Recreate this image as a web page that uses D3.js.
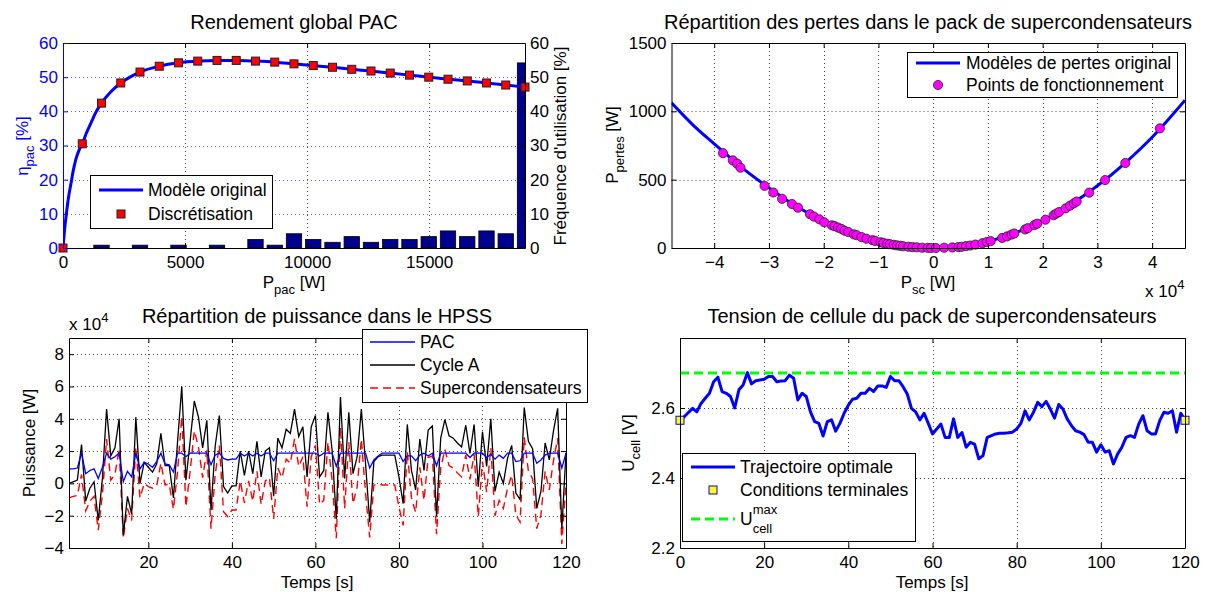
<!DOCTYPE html>
<html><head><meta charset="utf-8">
<script src="https://cdn.jsdelivr.net/npm/d3@7"></script>
<style>
body{margin:0;background:#fff}
svg{display:block}
text{font-family:"Liberation Sans",Arial,Helvetica,sans-serif}
</style></head>
<body><svg id="c" width="1213" height="592"></svg>
<script>
// ---------------- DATA ----------------
// Panel 1 : Rendement global PAC
const modelP   = [0,60,130,230,330,430,530,650,789,950,1170,1370,1577,1970,2366,2760,3154,3943,4732,5520,6309,7097,7886,8675,9463,10252,11041,11829,12618,13406,14195,14984,15772,16561,17350,18138,18927];
const modelEta = [0,5,9.5,15,19,23,26,28.5,30.5,33.5,37,40,42.4,45.8,48.3,50.1,51.5,53.2,54.2,54.7,54.9,54.9,54.7,54.4,53.9,53.4,52.9,52.3,51.8,51.2,50.6,50.0,49.4,48.9,48.3,47.7,47.1];
const discP    = [0,789,1577,2366,3154,3943,4732,5520,6309,7097,7886,8675,9463,10252,11041,11829,12618,13406,14195,14984,15772,16561,17350,18138,18927];
const discEta  = [0,30.5,42.4,48.3,51.5,53.2,54.2,54.7,54.9,54.9,54.7,54.4,53.9,53.4,52.9,52.3,51.8,51.2,50.6,50.0,49.4,48.9,48.3,47.7,47.1];
const freqP    = [1577,3154,4732,6309,7886,8675,9463,10252,11041,11829,12618,13406,14195,14984,15772,16561,17350,18138,18927];
const freqPct  = [0.83,0.83,0.83,0.83,2.5,0.83,4.17,2.5,1.67,3.33,1.67,2.5,2.5,3.33,5.0,3.33,5.0,4.17,54.17];
const p1XTicks = [0,5000,10000,15000];
const p1YTicks = [0,10,20,30,40,50,60];

// Panel 2 : pertes supercondensateurs (x in 1e4 W, y in W)
const lossCurveX = [-4.78,-4.4,-4.0,-3.5,-3.0,-2.5,-2.0,-1.5,-1.0,-0.5,0,0.5,1.0,1.5,2.0,2.5,3.0,3.5,4.0,4.6];
const lossCurveY = [1062,905,762,590,440,305,195,107,47,12,0,12,47,110,200,315,455,620,810,1081];
const opX = [-3.84,-3.66,-3.58,-3.52,-3.08,-2.92,-2.76,-2.58,-2.47,-2.25,-2.18,-2.08,-1.99,-1.85,-1.80,-1.74,-1.68,-1.62,-1.55,-1.45,-1.40,-1.31,-1.22,-1.11,-1.06,-0.96,-0.91,-0.84,-0.79,-0.72,-0.66,-0.60,-0.55,-0.45,-0.38,-0.30,-0.20,-0.10,-0.04,0.05,0.20,0.35,0.46,0.52,0.60,0.68,0.77,0.90,0.98,1.05,1.26,1.35,1.43,1.48,1.68,1.73,1.85,1.90,2.05,2.20,2.25,2.30,2.42,2.50,2.57,2.62,2.85,3.14,3.51,4.14];
const opY = [694,641,617,588,455,406,360,322,295,247,230,210,188,166,160,150,140,127,117,100,94,80,68,57,52,42,37,31,28,23,19,16,13,9,7,5,2,1,0,0,2,4,7,9,14,18,25,35,44,50,74,85,98,106,136,145,168,178,207,240,252,263,290,310,327,340,405,497,622,875];
const p2XTicks = [-4,-3,-2,-1,0,1,2,3,4];
const p2YTicks = [0,500,1000,1500];

// Panel 3 : répartition de puissance (x1e4 W)
const time3 = [1,2,3,4,5,6,7,8,9,10,11,12,13,14,15,16,17,18,19,20,21,22,23,24,25,26,27,28,29,30,31,32,33,34,35,36,37,38,39,40,41,42,43,44,45,46,47,48,49,50,51,52,53,54,55,56,57,58,59,60,61,62,63,64,65,66,67,68,69,70,71,72,73,74,75,76,77,78,79,80,81,82,83,84,85,86,87,88,89,90,91,92,93,94,95,96,97,98,99,100,101,102,103,104,105,106,107,108,109,110,111,112,113,114,115,116,117,118,119,120];
const pacP = [0.9,0.9,0.95,1.87,0.6,0.8,0.9,0.3,1.0,1.87,
 1.5,1.65,1.87,0.1,0.75,0.4,1.87,0.9,1.3,1.2,
 1.0,1.35,1.87,1.2,1.15,0.7,1.87,1.87,1.65,1.87,
 1.87,1.87,1.87,1.87,1.15,1.75,1.87,1.55,1.45,1.5,
 1.5,1.87,1.7,1.87,1.7,1.87,1.7,1.87,1.87,1.4,
 1.87,1.87,1.87,1.87,1.87,1.87,1.87,1.87,1.87,1.87,
 1.7,1.87,1.87,1.87,1.05,1.87,1.87,1.87,1.87,1.87,
 1.87,1.87,0.95,1.45,1.7,1.87,1.87,1.87,1.87,1.87,
 1.35,1.7,1.7,1.4,1.75,1.87,1.7,1.87,1.1,1.87,
 1.87,1.87,1.87,1.87,1.87,1.87,1.6,1.87,1.87,1.87,
 1.6,1.8,1.5,1.75,1.55,1.87,1.87,1.35,1.4,1.87,
 1.87,1.87,1.25,1.45,1.75,1.87,1.87,1.87,0.95,1.87];
const cycleP = [0.0,0.1,0.2,2.4,-1.1,-0.3,0.1,-2.3,0.3,4.6,
 1.7,2.2,4.0,-3.2,-0.8,-1.9,4.1,0.0,1.3,1.0,
 0.7,1.2,3.1,1.1,1.1,-0.9,2.6,6.0,0.2,2.6,
 5.1,4.1,2.2,3.9,-1.65,2.3,4.2,-0.2,-0.6,-0.15,
 -0.15,2.0,0.5,2.0,0.6,2.6,0.4,2.0,2.2,-0.8,
 2.8,2.2,3.35,3.1,4.6,2.9,3.5,0.4,3.5,4.2,
 0.4,0.8,4.4,2.05,-2.2,5.35,0.3,4.4,0.6,1.65,
 4.6,1.25,-2.4,1.35,1.65,1.75,1.75,1.75,1.75,0.4,
 -1.25,3.65,0.8,-0.4,2.75,0.8,3.3,3.55,-2.05,2.8,
 3.95,2.95,2.8,2.5,2.25,3.6,1.85,3.65,-0.2,3.2,
 1.05,4.0,-0.5,0.7,0.0,1.55,2.35,-0.6,-1.0,4.7,
 2.6,2.15,-1.55,-0.5,2.5,1.45,3.25,4.65,-2.8,1.9];
const scP = [-0.9,-0.8,-0.75,0.55,-1.7,-1.1,-0.8,-2.9,-0.7,2.75,
 0.2,0.55,2.15,-3.4,-1.55,-2.3,2.25,-0.9,0.0,-0.2,
 -0.3,-0.15,1.25,-0.1,-0.05,-1.6,0.75,4.15,-1.45,0.75,
 3.25,2.25,0.35,2.05,-2.8,0.55,2.35,-1.75,-2.05,-1.65,
 -1.65,0.15,-1.2,0.15,-1.1,0.75,-1.3,0.15,0.35,-2.2,
 0.95,0.35,1.5,1.25,2.75,1.05,1.65,-1.45,1.65,2.35,
 -1.3,-1.05,2.55,0.2,-3.4,3.5,-1.55,2.55,-1.25,-0.2,
 2.75,-0.6,-3.35,-0.1,-0.05,-0.1,-0.1,-0.1,-0.1,-1.45,
 -2.6,1.95,-0.9,-1.8,1.0,-1.05,1.6,1.7,-3.15,0.95,
 2.1,1.1,0.95,0.65,0.4,1.75,0.25,1.8,-2.05,1.35,
 -0.55,2.2,-2.0,-1.05,-1.55,-0.3,0.5,-1.95,-2.4,2.85,
 0.75,0.3,-2.8,-1.95,0.75,-0.4,1.4,2.8,-3.75,0.05];
const p3XTicks = [20,40,60,80,100,120];
const p3YTicks = [-4,-2,0,2,4,6,8];

// Panel 4 : tension de cellule
const time4 = [0,1,2,3,4,5,6,7,8,9,10,11,12,13,14,15,16,17,18,19,20,21,22,23,24,25,26,27,28,29,30,31,32,33,34,35,36,37,38,39,40,41,42,43,44,45,46,47,48,49,50,51,52,53,54,55,56,57,58,59,60,61,62,63,64,65,66,67,68,69,70,71,72,73,74,75,76,77,78,79,80,81,82,83,84,85,86,87,88,89,90,91,92,93,94,95,96,97,98,99,100,101,102,103,104,105,106,107,108,109,110,111,112,113,114,115,116,117,118,119,120];
const uCell = [2.565,2.575,2.587,2.599,2.589,2.613,2.628,2.642,2.675,2.688,
 2.647,2.642,2.633,2.600,2.652,2.666,2.701,2.669,2.678,2.680,
 2.682,2.690,2.690,2.675,2.677,2.678,2.694,2.685,2.623,2.642,
 2.633,2.589,2.561,2.556,2.520,2.561,2.566,2.534,2.556,2.585,
 2.608,2.625,2.628,2.642,2.642,2.656,2.647,2.663,2.663,2.659,
 2.690,2.678,2.678,2.661,2.640,2.599,2.589,2.566,2.585,2.556,
 2.526,2.540,2.554,2.516,2.516,2.569,2.516,2.530,2.488,2.502,
 2.497,2.455,2.464,2.516,2.521,2.526,2.528,2.528,2.529,2.531,
 2.540,2.556,2.592,2.566,2.588,2.616,2.604,2.619,2.597,2.571,
 2.610,2.597,2.569,2.550,2.535,2.531,2.524,2.502,2.502,2.474,
 2.495,2.474,2.478,2.440,2.469,2.488,2.516,2.521,2.516,2.554,
 2.578,2.535,2.526,2.526,2.564,2.588,2.585,2.592,2.531,2.585,2.565];
const termT = [0,120];
const termU = [2.565,2.565];
const uMax = 2.7;
const p4XTicks = [0,20,40,60,80,100,120];
const p4YTicks = [2.2,2.4,2.6];

// ---------------- DRAWING ----------------
const TICK=17, LAB=17, TITLE=20, LEG=17.5, SUB=13;
const svg = d3.select("#c");
svg.append("rect").attr("width",1213).attr("height",592).attr("fill","#fff");
const defs = svg.append("defs");

function clip(id,x0,y0,x1,y1){
  defs.append("clipPath").attr("id",id).append("rect").attr("x",x0).attr("y",y0).attr("width",x1-x0).attr("height",y1-y0);
  return `url(#${id})`;
}
function grid(g,x,y,xt,yt,cx,cy){
  const [xa,xb]=x.range(), [yb,ya]=y.range();
  xt.filter(v=>x(v)>xa+1&&x(v)<xb-1).forEach(v=>{
    g.append("line").attr("x1",Math.round(x(v))+0.5).attr("x2",Math.round(x(v))+0.5).attr("y1",ya).attr("y2",yb)
     .attr("stroke",cx).attr("stroke-width",1).attr("stroke-dasharray","1,3");
  });
  yt.filter(v=>y(v)<yb-1&&y(v)>ya+1).forEach(v=>{
    g.append("line").attr("y1",Math.round(y(v))+0.5).attr("y2",Math.round(y(v))+0.5).attr("x1",xa).attr("x2",xb)
     .attr("stroke",cy).attr("stroke-width",1).attr("stroke-dasharray","1,3");
  });
}
function styleAxis(a,color){
  a.attr("font-size",TICK).attr("font-family",null);
  a.selectAll("text").attr("fill",color);
  a.selectAll("line,path").attr("stroke",color);
}
function axes(g,x,y,xt,yt,xf,yf,opt={}){
  const [xa,xb]=x.range(), [yb,ya]=y.range();
  const lc=opt.leftColor||"#000";
  styleAxis(g.append("g").attr("transform",`translate(0,${ya})`).call(d3.axisTop(x).tickValues(xt).tickFormat("").tickSizeInner(-5).tickSizeOuter(0)),"#000");
  styleAxis(g.append("g").attr("transform",`translate(0,${yb})`).call(d3.axisBottom(x).tickValues(xt).tickFormat(xf).tickSizeInner(-5).tickSizeOuter(0).tickPadding(8)),"#000");
  if(!opt.noRight) styleAxis(g.append("g").attr("transform",`translate(${xb},0)`).call(d3.axisRight(y).tickValues(yt).tickFormat("").tickSizeInner(-5).tickSizeOuter(0)),"#000");
  styleAxis(g.append("g").attr("transform",`translate(${xa},0)`).call(d3.axisLeft(y).tickValues(yt).tickFormat(yf).tickSizeInner(-5).tickSizeOuter(0).tickPadding(5)),lc);
}
function rich(parent,parts,o={}){
  const t=parent.append("text").attr("font-size",o.size||LAB).attr("text-anchor",o.anchor||"middle").attr("fill",o.color||"#000");
  if(o.x!==undefined) t.attr("x",o.x).attr("y",o.y);
  if(o.transform) t.attr("transform",o.transform);
  let cur=0;
  parts.forEach(([s,k])=>{
    const target=k==="sub"?5.5:k==="sup"?-8:0;
    const ts=t.append("tspan").text(s).attr("dy",target-cur);
    if(k!=="n") ts.attr("font-size",SUB);
    cur=target;
  });
  return t;
}
function legendBox(g,x0,y0,x1,y1){
  g.append("rect").attr("x",x0+0.5).attr("y",y0+0.5).attr("width",x1-x0).attr("height",y1-y0).attr("fill","#fff").attr("stroke","#000").attr("stroke-width",1);
}
function ltext(g,x,y,s){ return g.append("text").attr("x",x).attr("y",y+6.2).attr("font-size",LEG).text(s); }

// ===== Panel 1 =====
{
  const g=svg.append("g");
  const x=d3.scaleLinear().domain([0,18927]).range([63,525]);
  const y=d3.scaleLinear().domain([0,60]).range([248,43]);
  const y2=d3.scaleLinear().domain([0,60]).range([248,43]);
  const cp=clip("c1",63,43,525,248);
  grid(g,x,y,p1XTicks,p1YTicks,"#444","#5a5aff");
  const BAR_HALF=315;
  g.append("g").attr("clip-path",cp).selectAll("rect").data(freqP.map((p,i)=>({p,v:freqPct[i]}))).join("rect")
    .attr("x",d=>x(d.p-BAR_HALF)).attr("width",d=>x(d.p+BAR_HALF)-x(d.p-BAR_HALF))
    .attr("y",d=>y2(d.v)).attr("height",d=>y2(0)-y2(d.v))
    .attr("fill","#00008F").attr("stroke","#000").attr("stroke-width",0.8);
  const line=d3.line().x((d,i)=>x(modelP[i])).y((d,i)=>y(modelEta[i])).curve(d3.curveMonotoneX);
  g.append("path").attr("clip-path",cp).attr("d",line(modelP)).attr("fill","none").attr("stroke","#0000FF").attr("stroke-width",3);
  g.append("g").selectAll("rect").data(discP.map((p,i)=>({p,v:discEta[i]}))).join("rect")
    .attr("x",d=>x(d.p)-4).attr("y",d=>y(d.v)-4).attr("width",8).attr("height",8)
    .attr("fill","#FF0000").attr("stroke","#222").attr("stroke-width",1);
  axes(g,x,y,p1XTicks,p1YTicks,d3.format("d"),d3.format("d"),{leftColor:"#0000FF",noRight:true});
  styleAxis(g.append("g").attr("transform","translate(525,0)").call(d3.axisRight(y2).tickValues(p1YTicks).tickFormat(d3.format("d")).tickSizeInner(-5).tickSizeOuter(0).tickPadding(5)),"#000");
  g.append("text").attr("x",294).attr("y",29).attr("text-anchor","middle").attr("font-size",TITLE).text("Rendement global PAC");
  rich(g,[["P","n"],["pac","sub"],[" [W]","n"]],{x:294,y:288});
  rich(g,[["η","n"],["pac","sub"],[" [%]","n"]],{transform:"translate(28,146) rotate(-90)",color:"#0000FF"});
  g.append("text").attr("transform","translate(566,146) rotate(-90)").attr("text-anchor","middle").attr("font-size",LAB).text("Fréquence d'utilisation [%]");
  legendBox(g,90,175,272,228);
  g.append("line").attr("x1",99).attr("x2",143).attr("y1",190).attr("y2",190).attr("stroke","#0000FF").attr("stroke-width",3);
  ltext(g,148,190,"Modèle original");
  g.append("rect").attr("x",117).attr("y",210).attr("width",8).attr("height",8).attr("fill","#FF0000").attr("stroke","#222");
  ltext(g,148,214,"Discrétisation");
}

// ===== Panel 2 =====
{
  const g=svg.append("g");
  const x=d3.scaleLinear().domain([-4.78,4.6]).range([671.5,1185]);
  const y=d3.scaleLinear().domain([0,1500]).range([248,43]);
  const cp=clip("c2",671.5,43,1185,248);
  grid(g,x,y,p2XTicks,p2YTicks,"#444","#444");
  const line=d3.line().x((d,i)=>x(lossCurveX[i])).y((d,i)=>y(lossCurveY[i])).curve(d3.curveMonotoneX);
  g.append("path").attr("clip-path",cp).attr("d",line(lossCurveX)).attr("fill","none").attr("stroke","#0000FF").attr("stroke-width",3);
  g.append("g").selectAll("circle").data(opX.map((v,i)=>({v,w:opY[i]}))).join("circle")
    .attr("cx",d=>x(d.v)).attr("cy",d=>y(d.w)).attr("r",4.6).attr("fill","#FF00FF").attr("stroke","#222").attr("stroke-width",0.8);
  axes(g,x,y,p2XTicks,p2YTicks,d3.format("d"),d3.format("d"));
  g.append("text").attr("x",928).attr("y",29).attr("text-anchor","middle").attr("font-size",TITLE).text("Répartition des pertes dans le pack de supercondensateurs");
  rich(g,[["P","n"],["sc","sub"],[" [W]","n"]],{x:928,y:288});
  rich(g,[["P","n"],["pertes","sub"],[" [W]","n"]],{transform:"translate(618,145) rotate(-90)"});
  rich(g,[["x 10","n"],["4","sup"]],{x:1145,y:297,anchor:"start"});
  legendBox(g,907,52,1177,97);
  g.append("line").attr("x1",916).attr("x2",960).attr("y1",63).attr("y2",63).attr("stroke","#0000FF").attr("stroke-width",3);
  ltext(g,966,63,"Modèles de pertes original");
  g.append("circle").attr("cx",938).attr("cy",85).attr("r",4.6).attr("fill","#FF00FF").attr("stroke","#222").attr("stroke-width",0.8);
  ltext(g,966,85,"Points de fonctionnement");
}

// ===== Panel 3 =====
{
  const g=svg.append("g");
  const x=d3.scaleLinear().domain([1,120]).range([69,566]);
  const y=d3.scaleLinear().domain([-4,9]).range([548,338]);
  const cp=clip("c3",69,338,566,548);
  grid(g,x,y,p3XTicks,p3YTicks,"#444","#444");
  const mk=arr=>d3.line().x((d,i)=>x(time3[i])).y((d,i)=>y(arr[i]))(arr);
  g.append("path").attr("clip-path",cp).attr("d",mk(scP)).attr("fill","none").attr("stroke","#FF0000").attr("stroke-width",1.4).attr("stroke-dasharray","8,5");
  g.append("path").attr("clip-path",cp).attr("d",mk(cycleP)).attr("fill","none").attr("stroke","#000").attr("stroke-width",1.3);
  g.append("path").attr("clip-path",cp).attr("d",mk(pacP)).attr("fill","none").attr("stroke","#0000FF").attr("stroke-width",1.3);
  axes(g,x,y,p3XTicks,p3YTicks,d3.format("d"),d3.format("d"));
  g.append("text").attr("x",317).attr("y",323).attr("text-anchor","middle").attr("font-size",TITLE).text("Répartition de puissance dans le HPSS");
  g.append("text").attr("x",317).attr("y",588).attr("text-anchor","middle").attr("font-size",LAB).text("Temps [s]");
  g.append("text").attr("transform","translate(35,443) rotate(-90)").attr("text-anchor","middle").attr("font-size",LAB).text("Puissance [W]");
  rich(g,[["x 10","n"],["4","sup"]],{x:69,y:330,anchor:"start"});
  legendBox(g,362,329,587,402);
  g.append("line").attr("x1",370).attr("x2",415).attr("y1",342).attr("y2",342).attr("stroke","#0000FF").attr("stroke-width",1.3);
  ltext(g,420,342,"PAC");
  g.append("line").attr("x1",370).attr("x2",415).attr("y1",365).attr("y2",365).attr("stroke","#000").attr("stroke-width",1.3);
  ltext(g,420,365,"Cycle A");
  g.append("line").attr("x1",370).attr("x2",415).attr("y1",388).attr("y2",388).attr("stroke","#FF0000").attr("stroke-width",1.4).attr("stroke-dasharray","8,5");
  ltext(g,420,388,"Supercondensateurs");
}

// ===== Panel 4 =====
{
  const g=svg.append("g");
  const x=d3.scaleLinear().domain([0,120]).range([680,1185]);
  const y=d3.scaleLinear().domain([2.2,2.8]).range([548,338]);
  const cp=clip("c4",680,338,1185,548);
  grid(g,x,y,p4XTicks,p4YTicks,"#444","#444");
  g.append("line").attr("x1",x(0)).attr("x2",x(120)).attr("y1",y(uMax)).attr("y2",y(uMax)).attr("stroke","#00FF00").attr("stroke-width",3).attr("stroke-dasharray","9,5");
  const line=d3.line().x((d,i)=>x(time4[i])).y((d,i)=>y(uCell[i]));
  g.append("path").attr("clip-path",cp).attr("d",line(uCell)).attr("fill","none").attr("stroke","#0000FF").attr("stroke-width",3).attr("stroke-linejoin","round");
  g.append("g").selectAll("rect").data(termT.map((t,i)=>({t,u:termU[i]}))).join("rect")
    .attr("x",d=>x(d.t)-4).attr("y",d=>y(d.u)-4).attr("width",8).attr("height",8)
    .attr("fill","#FFFF00").attr("stroke","#0000FF").attr("stroke-width",1);
  axes(g,x,y,p4XTicks,p4YTicks,d3.format("d"),d3.format(".1f"));
  g.append("text").attr("x",932).attr("y",323).attr("text-anchor","middle").attr("font-size",TITLE).text("Tension de cellule du pack de supercondensateurs");
  g.append("text").attr("x",932).attr("y",588).attr("text-anchor","middle").attr("font-size",LAB).text("Temps [s]");
  rich(g,[["U","n"],["cell","sub"],[" [V]","n"]],{transform:"translate(634,443) rotate(-90)"});
  legendBox(g,682,453,915,541);
  g.append("line").attr("x1",691).attr("x2",735).attr("y1",467).attr("y2",467).attr("stroke","#0000FF").attr("stroke-width",3);
  ltext(g,740,467,"Trajectoire optimale");
  g.append("rect").attr("x",709).attr("y",486).attr("width",8).attr("height",8).attr("fill","#FFFF00").attr("stroke","#0000FF");
  ltext(g,740,490,"Conditions terminales");
  g.append("line").attr("x1",691).attr("x2",735).attr("y1",519).attr("y2",519).attr("stroke","#00FF00").attr("stroke-width",3).attr("stroke-dasharray","9,5");
  const u=g.append("text").attr("x",740).attr("y",525).attr("font-size",LEG).text("U");
  const uw=u.node().getComputedTextLength();
  g.append("text").attr("x",740+uw).attr("y",514).attr("font-size",SUB).text("max");
  g.append("text").attr("x",740+uw).attr("y",533).attr("font-size",SUB).text("cell");
}
</script>
</body></html>
